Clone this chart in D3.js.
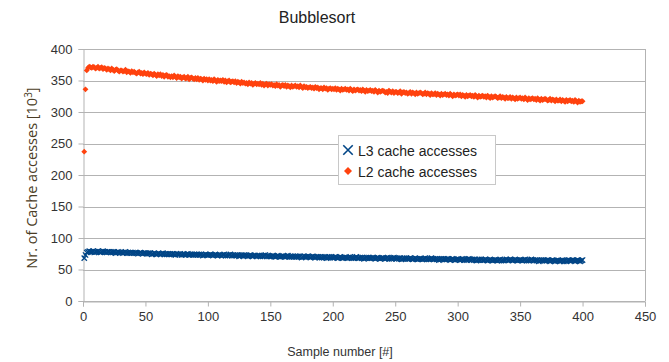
<!DOCTYPE html>
<html>
<head>
<meta charset="utf-8">
<title>Bubblesort</title>
<script src="https://d3js.org/d3.v7.min.js"></script>
<style>
  body { margin: 0; background: #fff; }
  text { font-family: "Liberation Sans", Arial, sans-serif; }
</style>
</head>
<body>
<div id="chart"></div>
<script>
// L3 cache accesses [10^3], samples 1..400
let l3 = [
  68, 73, 77, 78, 79, 78, 78, 79, 77, 78,
  78, 79, 78, 77, 78, 79, 78, 78, 77, 78,
  78, 77, 78, 77, 78, 76, 77, 78, 77, 77,
  77, 76, 77, 78, 76, 77, 76, 77, 76, 77,
  76, 77, 76, 75, 76, 77, 76, 75, 76, 76,
  75, 76, 75, 76, 74, 75, 76, 75, 74, 75,
  75, 74, 75, 76, 74, 75, 74, 75, 74, 75,
  74, 75, 74, 73, 75, 74, 74, 75, 73, 74,
  74, 73, 74, 75, 73, 74, 74, 73, 74, 73,
  74, 73, 74, 73, 74, 72, 73, 74, 73, 73,
  73, 74, 73, 72, 73, 74, 73, 72, 73, 73,
  72, 73, 74, 72, 73, 72, 73, 74, 72, 73,
  72, 73, 72, 73, 71, 72, 73, 72, 73, 72,
  72, 71, 72, 73, 72, 71, 72, 72, 71, 72,
  72, 71, 72, 71, 72, 73, 71, 72, 71, 71,
  71, 72, 71, 70, 71, 72, 71, 70, 71, 71,
  71, 70, 71, 72, 70, 71, 70, 71, 70, 71,
  70, 71, 70, 71, 69, 70, 71, 70, 70, 71,
  70, 69, 70, 71, 70, 69, 70, 70, 69, 70,
  69, 70, 69, 70, 68, 69, 70, 69, 70, 69,
  69, 70, 69, 68, 69, 70, 69, 68, 69, 69,
  69, 68, 69, 70, 68, 69, 68, 69, 70, 68,
  68, 69, 68, 69, 67, 68, 69, 68, 69, 68,
  68, 69, 68, 67, 68, 69, 68, 67, 68, 68,
  68, 67, 68, 69, 67, 68, 67, 68, 69, 68,
  67, 68, 67, 68, 66, 67, 68, 67, 68, 67,
  67, 68, 67, 66, 67, 68, 67, 66, 67, 67,
  67, 66, 67, 68, 66, 67, 66, 67, 68, 67,
  66, 67, 66, 67, 65, 66, 67, 66, 67, 66,
  66, 67, 66, 65, 66, 67, 66, 65, 66, 66,
  66, 65, 66, 67, 65, 66, 65, 66, 67, 66,
  65, 66, 65, 66, 64, 65, 66, 65, 66, 65,
  65, 66, 65, 64, 65, 66, 65, 64, 65, 65,
  65, 64, 65, 66, 64, 65, 64, 65, 66, 65,
  65, 66, 65, 64, 65, 66, 65, 64, 65, 65,
  65, 64, 65, 66, 64, 65, 64, 65, 66, 65,
  64, 65, 64, 65, 63, 64, 65, 64, 65, 64,
  64, 65, 64, 63, 64, 65, 64, 63, 64, 64,
  64, 63, 64, 65, 63, 64, 63, 64, 65, 64,
  64, 65, 64, 63, 64, 65, 64, 63, 64, 65
];

// L2 cache accesses [10^3], samples 1..400
let l2 = [
  237, 336, 366, 370, 372, 371, 370, 372, 371, 369,
  370, 372, 369, 370, 371, 368, 370, 369, 367, 369,
  368, 366, 369, 367, 365, 367, 368, 366, 364, 366,
  366, 364, 365, 367, 363, 365, 364, 362, 365, 363,
  364, 362, 361, 363, 364, 361, 362, 360, 363, 361,
  360, 362, 359, 361, 360, 358, 361, 359, 357, 360,
  358, 360, 357, 359, 356, 358, 359, 356, 357, 355,
  357, 355, 358, 356, 354, 357, 355, 356, 353, 355,
  356, 353, 354, 356, 352, 354, 355, 353, 352, 354,
  352, 354, 351, 353, 352, 350, 353, 351, 352, 350,
  352, 350, 351, 349, 352, 350, 348, 351, 349, 350,
  349, 351, 348, 350, 347, 349, 350, 347, 348, 349,
  347, 349, 346, 348, 347, 345, 348, 346, 347, 345,
  346, 344, 347, 345, 346, 343, 345, 346, 344, 345,
  344, 346, 343, 345, 342, 344, 345, 342, 344, 343,
  344, 342, 343, 341, 344, 342, 343, 340, 342, 343,
  341, 343, 340, 342, 341, 339, 342, 340, 341, 342,
  340, 341, 339, 342, 340, 338, 341, 339, 340, 338,
  339, 340, 338, 339, 337, 340, 338, 339, 336, 338,
  338, 336, 339, 337, 338, 335, 337, 338, 336, 337,
  336, 338, 335, 337, 336, 334, 337, 335, 336, 337,
  335, 336, 334, 337, 335, 333, 336, 334, 335, 336,
  334, 335, 333, 336, 334, 332, 335, 333, 334, 335,
  333, 334, 332, 335, 333, 331, 334, 332, 333, 334,
  333, 331, 332, 330, 334, 332, 331, 333, 330, 332,
  332, 330, 331, 333, 329, 331, 332, 330, 331, 329,
  330, 332, 329, 331, 330, 328, 331, 329, 330, 331,
  330, 328, 329, 331, 328, 330, 329, 327, 330, 328,
  328, 330, 327, 329, 328, 326, 329, 327, 328, 329,
  327, 328, 326, 329, 327, 325, 328, 326, 327, 328,
  326, 328, 325, 327, 326, 324, 327, 325, 326, 327,
  325, 326, 324, 327, 325, 323, 326, 324, 325, 326,
  324, 325, 323, 326, 324, 322, 325, 323, 324, 325,
  324, 322, 323, 325, 322, 324, 323, 321, 324, 322,
  322, 324, 321, 323, 322, 320, 323, 321, 322, 323,
  321, 322, 320, 323, 321, 319, 322, 320, 321, 322,
  320, 321, 319, 322, 320, 318, 321, 319, 320, 321,
  320, 318, 319, 321, 318, 320, 319, 317, 320, 318,
  318, 320, 317, 319, 318, 316, 319, 317, 318, 319,
  317, 318, 316, 319, 317, 315, 318, 316, 317, 317
];

let xTicks = [0, 50, 100, 150, 200, 250, 300, 350, 400, 450];
let yTicks = [0, 50, 100, 150, 200, 250, 300, 350, 400];
let seriesNames = ["L3 cache accesses", "L2 cache accesses"];
let colors = ["#004586", "#ff420e"];

let W = 669, H = 362;
let margin = {left: 83, right: 645, top: 49, bottom: 301};

let svg = d3.select("#chart")
  .append("svg")
  .attr("width", W)
  .attr("height", H);

let x = d3.scaleLinear().domain([0, 450]).range([margin.left, margin.right]);
let y = d3.scaleLinear().domain([0, 400]).range([margin.bottom, margin.top]);

// horizontal grid
svg.append("g")
  .selectAll("line")
  .data(yTicks)
  .enter()
  .append("line")
  .attr("x1", margin.left).attr("x2", margin.right)
  .attr("y1", d => Math.round(y(d)) + 0.5)
  .attr("y2", d => Math.round(y(d)) + 0.5)
  .attr("stroke", "#b3b3b3")
  .attr("stroke-width", 1);

// right border
svg.append("line")
  .attr("x1", margin.right + 0.5).attr("x2", margin.right + 0.5)
  .attr("y1", margin.top).attr("y2", margin.bottom)
  .attr("stroke", "#b3b3b3");

// axes
let xAxis = svg.append("g")
  .attr("transform", "translate(0," + (Math.round(y(0)) + 0.5) + ")")
  .call(d3.axisBottom(x).tickValues(xTicks).tickSize(5).tickPadding(5));

let yAxis = svg.append("g")
  .attr("transform", "translate(" + (Math.round(x(0)) + 0.5) + ",0)")
  .call(d3.axisLeft(y).tickValues(yTicks).tickSize(5).tickPadding(6));

[xAxis, yAxis].forEach(function(g) {
  g.select(".domain").attr("stroke", "#b3b3b3");
  g.selectAll(".tick line").attr("stroke", "#b3b3b3");
  g.selectAll(".tick text")
    .attr("fill", "#333")
    .style("font-size", "13px")
    .style("font-family", "'Liberation Sans', Arial, sans-serif");
});

// L2 diamonds (square turned by 45 degrees)
let diamond = d3.symbol().type(d3.symbolSquare).size(17);
svg.append("g")
  .selectAll("path")
  .data(l2)
  .enter()
  .append("path")
  .attr("d", diamond)
  .attr("transform", (d, i) => "translate(" + x(i + 1) + "," + y(d) + ") rotate(45)")
  .attr("fill", colors[1]);

// L3 crosses
let cross = d3.symbol().type(d3.symbolX).size(20);
svg.append("g")
  .selectAll("path")
  .data(l3)
  .enter()
  .append("path")
  .attr("d", cross)
  .attr("transform", (d, i) => "translate(" + x(i + 1) + "," + y(d) + ")")
  .attr("fill", "none")
  .attr("stroke", colors[0])
  .attr("stroke-width", 1.3);

// title
svg.append("text")
  .attr("x", 317).attr("y", 23)
  .attr("text-anchor", "middle")
  .attr("fill", "#222")
  .style("font-size", "16px")
  .text("Bubblesort");

// x axis title
svg.append("text")
  .attr("x", 340).attr("y", 356)
  .attr("text-anchor", "middle")
  .attr("fill", "#333")
  .style("font-size", "12.5px")
  .text("Sample number [#]");

// y axis title
let yt = svg.append("text")
  .attr("transform", "translate(37,178) rotate(-90)")
  .attr("text-anchor", "middle")
  .attr("fill", "#4a3c24")
  .style("font-family", "'Open Sans', sans-serif")
  .style("font-size", "14.5px");
yt.append("tspan").text("Nr. of Cache accesses [10");
yt.append("tspan").attr("dy", -5).style("font-size", "10px").text("3");
yt.append("tspan").attr("dy", 5).text("]");

// legend
let legend = svg.append("g");
legend.append("rect")
  .attr("x", 338.5).attr("y", 135.5)
  .attr("width", 157).attr("height", 49)
  .attr("fill", "#fff")
  .attr("stroke", "#c8c8c8");

let rows = legend.selectAll("g.row")
  .data(seriesNames)
  .enter()
  .append("g")
  .attr("class", "row")
  .attr("transform", (d, i) => "translate(348," + (150 + i * 21) + ")");

rows.append("path")
  .attr("d", (d, i) => i === 0
    ? d3.symbol().type(d3.symbolX).size(60)()
    : d3.symbol().type(d3.symbolSquare).size(32)())
  .attr("transform", (d, i) => i === 0 ? null : "rotate(45)")
  .attr("fill", (d, i) => i === 0 ? "none" : colors[1])
  .attr("stroke", (d, i) => i === 0 ? colors[0] : "none")
  .attr("stroke-width", 1.6);

rows.append("text")
  .attr("x", 10).attr("y", 5.5)
  .attr("fill", "#222")
  .style("font-size", "14px")
  .text(d => d);
</script>
</body>
</html>
